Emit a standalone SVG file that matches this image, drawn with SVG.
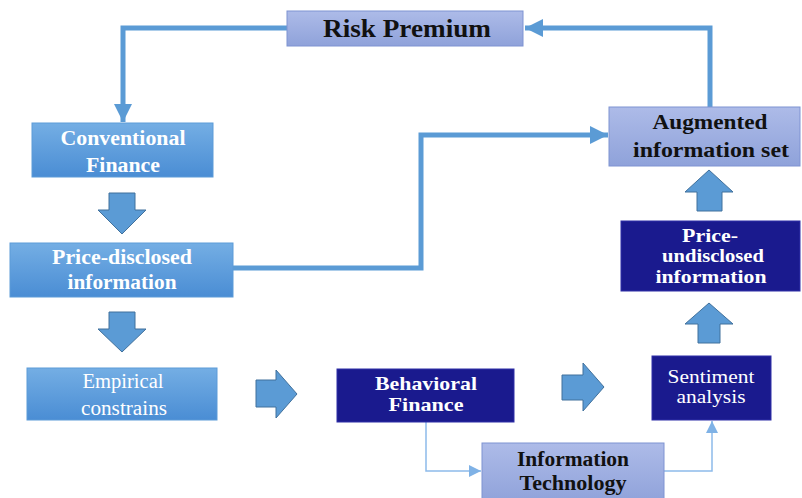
<svg xmlns="http://www.w3.org/2000/svg" width="802" height="498" viewBox="0 0 802 498">
<defs>
<linearGradient id="gBlue" x1="0" y1="0" x2="0" y2="1"><stop offset="0" stop-color="#74AEE4"/><stop offset="1" stop-color="#4A8DD4"/></linearGradient>
<linearGradient id="gLight" x1="0" y1="0" x2="0" y2="1"><stop offset="0" stop-color="#ADBBE8"/><stop offset="1" stop-color="#8FA2DA"/></linearGradient>
<marker id="mThick" markerUnits="userSpaceOnUse" markerWidth="20" markerHeight="20" refX="18" refY="9" orient="auto"><path d="M0,0 L18,9 L0,18 Z" fill="#5B9BD5"/></marker>
<marker id="mThin" markerUnits="userSpaceOnUse" markerWidth="14" markerHeight="14" refX="12" refY="6" orient="auto"><path d="M0,0 L12,6 L0,12 Z" fill="#7FB2E6"/></marker>
</defs>
<style>
.blue{fill:url(#gBlue);stroke:#5D9BD8;stroke-width:1}
.light{fill:url(#gLight);stroke:#7E93D2;stroke-width:1}
.navy{fill:#1A1A8E;stroke:#2E2EA8;stroke-width:1}
.t{font-family:"Liberation Serif","Times New Roman",serif;text-anchor:middle}
.b{font-weight:bold}
.w{fill:#FFFFFF}
.k{fill:#111111}
.thick{fill:none;stroke:#5B9BD5;stroke-width:5}
.thin{fill:none;stroke:#8DBBEA;stroke-width:1.5}
.bigarrow{fill:#5B9BD5;stroke:#41719C;stroke-width:1}
</style>
<rect width="802" height="498" fill="#FFFFFF"/>
<g id="connectors">
<path class="thick" d="M287,28 H123 V122" marker-end="url(#mThick)"/>
<path class="thick" d="M710,107 V28 H525" marker-end="url(#mThick)"/>
<path class="thick" d="M233,268 H421 V135 H608" marker-end="url(#mThick)"/>
<path class="thin" d="M426,422 V471 H481" marker-end="url(#mThin)"/>
<path class="thin" d="M664,471 H712 V421" marker-end="url(#mThin)"/>
<path class="bigarrow" d="M109,193 H135 V210 H146 L122,234 L98,210 H109 Z"/>
<path class="bigarrow" d="M109,312 H135 V329 H146 L122,352 L98,329 H109 Z"/>
<path class="bigarrow" d="M256,380 H276 V370 L297,394 L276,418 V407 H256 Z"/>
<path class="bigarrow" d="M562,375 H583 V363 L604,387 L583,411 V400 H562 Z"/>
<path class="bigarrow" d="M697,211 H722 V192 H733 L709,170 L685,192 H697 Z"/>
<path class="bigarrow" d="M698,343 H720 V324 H733 L709,303 L685,324 H698 Z"/>
</g>
<g id="risk-premium">
<rect class="light" x="287" y="11" width="236" height="35"/>
<text class="t b k" x="407" y="37" font-size="26" textLength="168" lengthAdjust="spacingAndGlyphs">Risk Premium</text>
</g>
<g id="conventional-finance">
<rect class="blue" x="32" y="123" width="181" height="54"/>
<text class="t b w" x="123" y="145" font-size="20" textLength="125" lengthAdjust="spacingAndGlyphs">Conventional</text>
<text class="t b w" x="123" y="172" font-size="20" textLength="74" lengthAdjust="spacingAndGlyphs">Finance</text>
</g>
<g id="price-disclosed">
<rect class="blue" x="10" y="243" width="223" height="54"/>
<text class="t b w" x="122" y="264" font-size="20" textLength="140" lengthAdjust="spacingAndGlyphs">Price-disclosed</text>
<text class="t b w" x="122" y="289" font-size="20" textLength="109" lengthAdjust="spacingAndGlyphs">information</text>
</g>
<g id="empirical-constrains">
<rect class="blue" x="27" y="368" width="190" height="52"/>
<text class="t w" x="123" y="388" font-size="20" textLength="81" lengthAdjust="spacingAndGlyphs">Empirical</text>
<text class="t w" x="124" y="415" font-size="20" textLength="86" lengthAdjust="spacingAndGlyphs">constrains</text>
</g>
<g id="behavioral-finance">
<rect class="navy" x="337" y="369" width="177" height="53"/>
<text class="t b w" x="426" y="390" font-size="19" textLength="102" lengthAdjust="spacingAndGlyphs">Behavioral</text>
<text class="t b w" x="426" y="411" font-size="19" textLength="75" lengthAdjust="spacingAndGlyphs">Finance</text>
</g>
<g id="sentiment-analysis">
<rect class="navy" x="652" y="356" width="119" height="64"/>
<text class="t w" x="711" y="383" font-size="19" textLength="87" lengthAdjust="spacingAndGlyphs">Sentiment</text>
<text class="t w" x="711" y="403" font-size="19" textLength="69" lengthAdjust="spacingAndGlyphs">analysis</text>
</g>
<g id="information-technology">
<rect class="light" x="482" y="443" width="182" height="60"/>
<text class="t b k" x="573" y="466" font-size="20" textLength="112" lengthAdjust="spacingAndGlyphs">Information</text>
<text class="t b k" x="573" y="490" font-size="20" textLength="107" lengthAdjust="spacingAndGlyphs">Technology</text>
</g>
<g id="price-undisclosed">
<rect class="navy" x="621" y="221" width="179" height="70"/>
<text class="t b w" x="710" y="242" font-size="19" textLength="56" lengthAdjust="spacingAndGlyphs">Price-</text>
<text class="t b w" x="713" y="262" font-size="19" textLength="102" lengthAdjust="spacingAndGlyphs">undisclosed</text>
<text class="t b w" x="711" y="283" font-size="19" textLength="111" lengthAdjust="spacingAndGlyphs">information</text>
</g>
<g id="augmented-information-set">
<rect class="light" x="609" y="107" width="191" height="59"/>
<text class="t b k" x="710" y="129" font-size="21" textLength="115" lengthAdjust="spacingAndGlyphs">Augmented</text>
<text class="t b k" x="711" y="157" font-size="21" textLength="156" lengthAdjust="spacingAndGlyphs">information set</text>
</g>
</svg>
